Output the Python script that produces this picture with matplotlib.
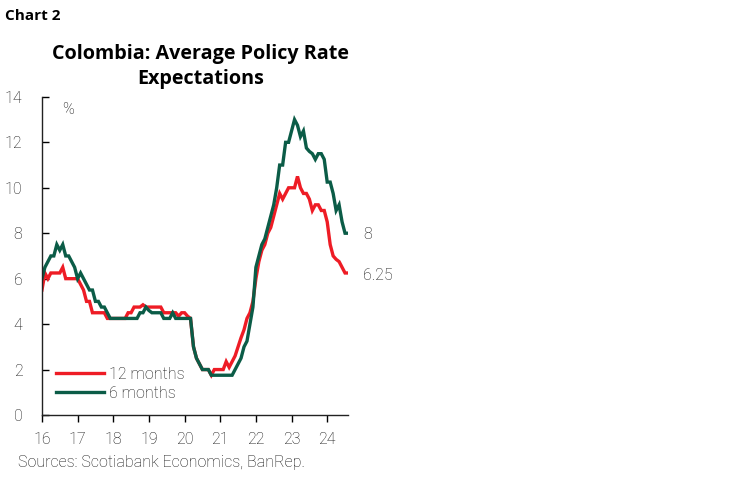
import matplotlib
matplotlib.use("Agg")
import matplotlib.pyplot as plt
import numpy as np

# monthly readings, Jan 2016 .. Aug 2024
red_12m = [
    5.5, 6.25, 6.0, 6.25, 6.25, 6.25, 6.25, 6.5, 6.0, 6.0, 6.0, 6.0,          # 2016
    6.0, 5.75, 5.5, 5.0, 5.0, 4.5, 4.5, 4.5, 4.5, 4.5, 4.25, 4.25,            # 2017
    4.25, 4.25, 4.25, 4.25, 4.25, 4.5, 4.5, 4.75, 4.75, 4.75, 4.85, 4.75,     # 2018
    4.75, 4.75, 4.75, 4.75, 4.75, 4.5, 4.5, 4.5, 4.5, 4.5, 4.35, 4.5,         # 2019
    4.5, 4.35, 4.25, 3.0, 2.5, 2.25, 2.0, 2.0, 2.0, 1.75, 2.0, 2.0,           # 2020
    2.0, 2.0, 2.35, 2.1, 2.35, 2.6, 3.0, 3.4, 3.75, 4.25, 4.5, 5.0,           # 2021
    6.0, 6.75, 7.25, 7.5, 8.0, 8.25, 8.75, 9.25, 9.75, 9.5, 9.75, 10.0,       # 2022
    10.0, 10.0, 10.5, 10.0, 9.75, 9.75, 9.5, 9.0, 9.25, 9.25, 9.0, 9.0,       # 2023
    8.5, 7.5, 7.0, 6.85, 6.75, 6.5, 6.25, 6.25,                               # 2024
]
green_6m = [
    6.0, 6.5, 6.75, 7.0, 7.0, 7.5, 7.25, 7.5, 7.0, 7.0, 6.75, 6.5,            # 2016
    6.0, 6.25, 6.0, 5.75, 5.5, 5.5, 5.0, 5.0, 4.75, 4.75, 4.5, 4.25,          # 2017
    4.25, 4.25, 4.25, 4.25, 4.25, 4.25, 4.25, 4.25, 4.25, 4.5, 4.5, 4.75,     # 2018
    4.6, 4.5, 4.5, 4.5, 4.5, 4.25, 4.25, 4.25, 4.5, 4.25, 4.25, 4.25,         # 2019
    4.25, 4.25, 4.25, 3.0, 2.5, 2.25, 2.0, 2.0, 2.0, 1.75, 1.75, 1.75,        # 2020
    1.75, 1.75, 1.75, 1.75, 1.75, 2.0, 2.25, 2.5, 3.0, 3.25, 4.0, 4.75,       # 2021
    6.5, 7.0, 7.5, 7.75, 8.25, 8.75, 9.25, 10.0, 11.0, 11.0, 12.0, 12.0,      # 2022
    12.5, 13.0, 12.75, 12.25, 12.5, 11.75, 11.6, 11.5, 11.25, 11.5, 11.5, 11.25,  # 2023
    10.25, 10.25, 9.75, 9.0, 9.25, 8.5, 8.0, 8.0,                             # 2024
]
year_ticks = [16, 17, 18, 19, 20, 21, 22, 23, 24]
end_labels = ["8", "6.25"]

RED = "#EE1C25"
GREEN = "#0B5C47"
TXT = "#111111"
LIGHT = dict(family="Roboto", weight="light")

x = 16 + np.arange(len(red_12m)) / 12.0

fig = plt.figure(figsize=(7.49, 4.82), dpi=100)
ax = fig.add_axes([0.056, 0.139, 0.408, 0.660])

ax.plot(x, red_12m, color=RED, lw=2.4, label="12 months", solid_joinstyle="miter")
ax.plot(x, green_6m, color=GREEN, lw=2.4, label="6 months", solid_joinstyle="miter")

ax.set_xlim(16, 24.57)
ax.set_ylim(0, 14)
ax.set_xticks(year_ticks)
ax.set_xticklabels([str(t) for t in year_ticks])
ax.set_yticks(range(0, 15, 2))

for s in ["top", "right"]:
    ax.spines[s].set_visible(False)
for s in ["left", "bottom"]:
    ax.spines[s].set_color("#222222")
    ax.spines[s].set_linewidth(1.0)

ax.tick_params(axis="y", direction="in", length=5, width=1, pad=14,
               labelsize=11.5, labelcolor=TXT)
ax.tick_params(axis="x", direction="out", length=5, width=1, pad=7,
               labelsize=11.5, labelcolor=TXT)
for lab in ax.get_xticklabels() + ax.get_yticklabels():
    lab.set_fontfamily(LIGHT["family"])
    lab.set_fontweight(LIGHT["weight"])

ax.text(0.066, 0.985, "%", transform=ax.transAxes, fontsize=11.5,
        color=TXT, va="top", **LIGHT)

ax.annotate(end_labels[0], xy=(x[-1], green_6m[-1]), xytext=(11, -1),
            textcoords="offset points", fontsize=11.5, color=TXT,
            va="center", annotation_clip=False, **LIGHT)
ax.annotate(end_labels[1], xy=(x[-1], red_12m[-1]), xytext=(11, -2),
            textcoords="offset points", fontsize=11.5, color=TXT,
            va="center", annotation_clip=False, **LIGHT)

leg = ax.legend(loc="lower left", bbox_to_anchor=(0.0, 0.0), frameon=False,
                handlelength=3.0, handletextpad=0.3, labelspacing=0.25,
                prop={"family": LIGHT["family"], "weight": LIGHT["weight"], "size": 11.5},
                borderaxespad=0.5)
for t in leg.get_texts():
    t.set_color(TXT)

fig.text(0.007, 0.967, "Chart 2", fontsize=11, fontweight="bold",
         family="Open Sans", color="black", va="center")
fig.text(0.268, 0.862, "Colombia: Average Policy Rate\nExpectations",
         fontsize=14.2, fontweight="bold", family="Open Sans", color="black",
         ha="center", va="center", linespacing=1.38)
fig.text(0.024, 0.041, "Sources: Scotiabank Economics, BanRep.",
         fontsize=11.5, color=TXT, va="center", **LIGHT)

fig.savefig("out.png", dpi=100)
